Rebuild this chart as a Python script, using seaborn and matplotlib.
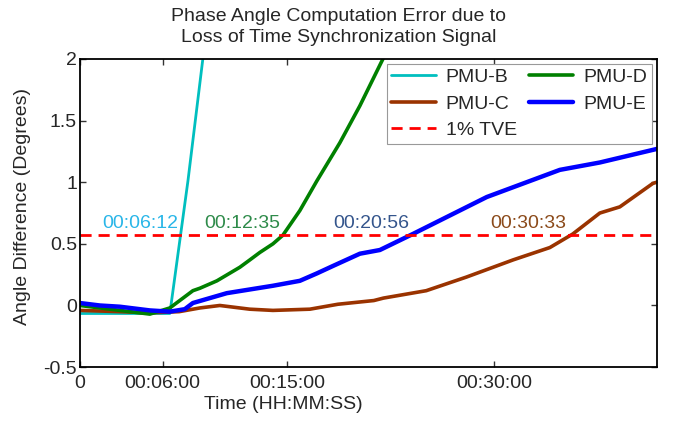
import numpy as np
import pandas as pd
import seaborn as sns
import matplotlib.pyplot as plt

# time in minutes, values in degrees
t_b = [0, 6.52, 7.83, 8.91, 9.2]
v_b = [-0.065, -0.065, 1.01, 2.0, 2.3]

t_c = [0, 2.9, 5.07, 7.2, 8.7, 10.14, 12.3, 13.99, 16.67, 18.7, 21.3, 22.0, 25.1,
       28.0, 31.4, 34.06, 35.72, 37.68, 39.13, 41.52, 41.8]
v_c = [-0.04, -0.05, -0.06, -0.05, -0.02, 0.0, -0.03, -0.04, -0.03, 0.01, 0.04, 0.06, 0.12,
       0.23, 0.37, 0.47, 0.58, 0.75, 0.80, 0.99, 1.0]

t_d = [0, 1.45, 2.9, 5.07, 6.52, 8.19, 8.7, 9.93, 11.59, 12.32, 13.04, 13.99, 14.71,
       15.94, 17.17, 18.84, 20.29, 21.96, 22.3]
v_d = [0.0, -0.02, -0.04, -0.07, -0.02, 0.12, 0.14, 0.20, 0.31, 0.37, 0.43, 0.50, 0.57,
       0.77, 1.01, 1.32, 1.62, 2.0, 2.1]

t_e = [0, 1.45, 2.9, 5.07, 6.52, 7.6, 8.19, 10.65, 13.99, 15.94, 17.17, 18.33, 20.29,
       21.74, 24.13, 29.49, 34.78, 37.68, 41.81]
v_e = [0.02, 0.0, -0.01, -0.04, -0.05, -0.03, 0.02, 0.10, 0.16, 0.20, 0.26, 0.32, 0.42,
       0.45, 0.58, 0.88, 1.10, 1.16, 1.27]

tve = 0.575

ann_text = ["00:06:12", "00:12:35", "00:20:56", "00:30:33"]
ann_x = [4.4, 11.8, 21.1, 32.5]
ann_y = [0.665, 0.665, 0.665, 0.665]
ann_color = ["#29b6e8", "#2e8b4a", "#34558c", "#8b4a1a"]

xticks = [0, 6, 15, 30]
xticklabels = ["0", "00:06:00", "00:15:00", "00:30:00"]
yticks = [-0.5, 0, 0.5, 1, 1.5, 2]
yticklabels = ["-0.5", "0", "0.5", "1", "1.5", "2"]

sns.set_style("ticks")
plt.rcParams['font.family'] = ['Liberation Sans', 'DejaVu Sans']
fs = 14

fig = plt.figure(figsize=(6.77, 4.21), dpi=100)
ax = fig.add_axes([0.118, 0.128, 0.852, 0.732])

series = [
    ("PMU-B", t_b, v_b, "#00bfbf", 2.0),
    ("PMU-C", t_c, v_c, "#9a3300", 2.6),
    ("PMU-D", t_d, v_d, "#008000", 2.6),
    ("PMU-E", t_e, v_e, "#0000ff", 3.2),
]
for name, t, v, col, lw in series:
    df = pd.DataFrame({"t": t, "v": v})
    sns.lineplot(data=df, x="t", y="v", color=col, linewidth=lw, ax=ax,
                 label=name, sort=False, estimator=None)

ax.axhline(tve, color="#ff0000", linestyle=(0, (4, 2.5)), linewidth=2, label="1% TVE")

for txt, x, y, c in zip(ann_text, ann_x, ann_y, ann_color):
    ax.text(x, y, txt, color=c, fontsize=fs, ha="center", va="center")

ax.set_xlim(0, 41.8)
ax.set_ylim(-0.5, 2)
ax.set_xticks(xticks)
ax.set_xticklabels(xticklabels)
ax.set_yticks(yticks)
ax.set_yticklabels(yticklabels)
ax.tick_params(direction="in", length=4, width=1, labelsize=fs, pad=2,
               top=True, right=True, color="#333333")
ax.tick_params(axis="x", pad=6)
for s in ax.spines.values():
    s.set_linewidth(1.3)
    s.set_color("black")

ax.set_xlabel("Time (HH:MM:SS)", fontsize=fs)
ax.xaxis.set_label_coords(0.352, -0.095)
ax.set_ylabel("Angle Difference (Degrees)", fontsize=fs)
ax.yaxis.set_label_coords(-0.085, 0.52)

fig.suptitle("Phase Angle Computation Error due to\nLoss of Time Synchronization Signal",
             fontsize=fs, y=0.98, linespacing=1.3)

handles, labels = ax.get_legend_handles_labels()
order = [labels.index(n) for n in ["PMU-B", "PMU-C", "1% TVE", "PMU-D", "PMU-E"]]
leg = ax.legend([handles[i] for i in order], [labels[i] for i in order],
                ncol=2, loc="upper right", fontsize=fs, frameon=True,
                fancybox=False, edgecolor="#999999", framealpha=1,
                handlelength=2.3, handletextpad=0.5, columnspacing=0.6,
                labelspacing=0.45, borderpad=0.25, borderaxespad=0.25)
leg.get_frame().set_linewidth(0.8)

fig.savefig("out.png", dpi=100)
